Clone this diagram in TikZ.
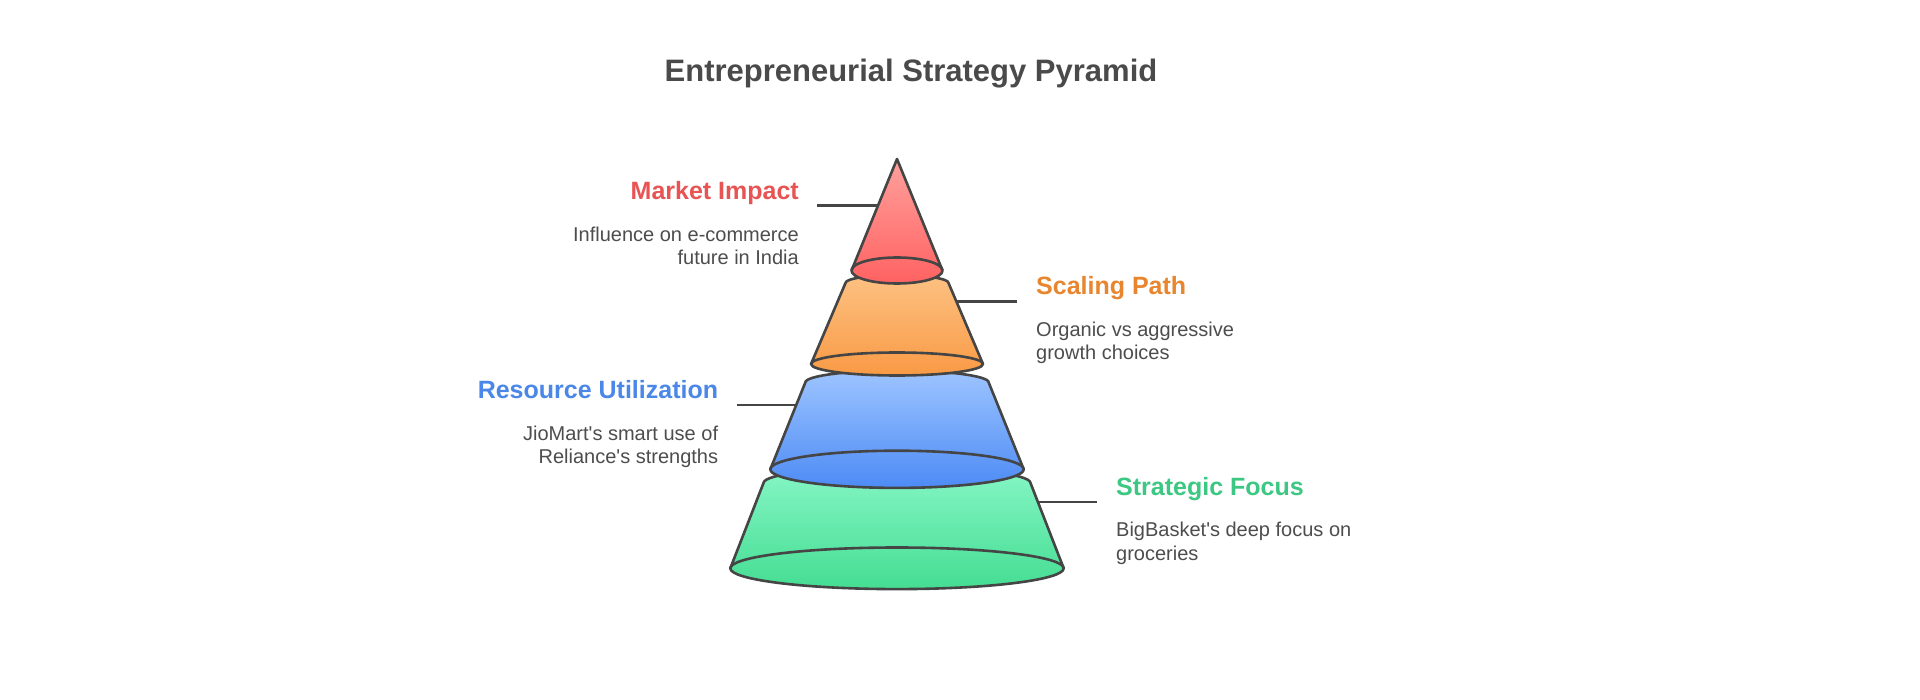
\documentclass[tikz,border=0pt]{standalone}
\usepackage{fontspec}
\setmainfont{Liberation Sans}
\definecolor{edge}{HTML}{454545}
\definecolor{titlegray}{HTML}{4A4A4A}
\definecolor{descgray}{HTML}{4D4D4D}
\definecolor{redtop}{HTML}{FFA09C}
\definecolor{redbot}{HTML}{FF6262}
\definecolor{orgtop}{HTML}{FDC182}
\definecolor{orgbot}{HTML}{F99A45}
\definecolor{blutop}{HTML}{9DC4FF}
\definecolor{blubot}{HTML}{4D8BF5}
\definecolor{grntop}{HTML}{86F6C6}
\definecolor{grnbot}{HTML}{45DD92}
\definecolor{redtxt}{HTML}{E85454}
\definecolor{orgtxt}{HTML}{E8852F}
\definecolor{blutxt}{HTML}{4A87E8}
\definecolor{grntxt}{HTML}{3CC882}
\begin{document}
\begin{tikzpicture}[x=1pt,y=-1pt,
  outline/.style={draw=edge, line width=2.6pt, line join=round},
  leader/.style={draw=edge, line width=2.4pt},
  ttl/.style={font=\fontsize{31}{36}\selectfont\bfseries, text=titlegray, inner sep=0pt},
  head/.style={font=\fontsize{25}{30}\selectfont\bfseries, inner sep=0pt},
  desc/.style={font=\fontsize{20}{23.3}\selectfont, text=descgray, inner sep=0pt},
]
\useasboundingbox (0,0) rectangle (1920,700);
\fill[white] (0,0) rectangle (1920,700);

% title
\node[ttl, anchor=base] (title) at (911,82) {Entrepreneurial Strategy Pyramid};

% green tier
\path[outline, top color=grntop, bottom color=grnbot]
  (763.5,483) arc[start angle=180,end angle=360,x radius=133.5,y radius=16]
  -- (1063.7,568.3) arc[start angle=0,end angle=180,x radius=166.7,y radius=20.8] -- cycle;
\draw[outline] (730.3,568.3) arc[start angle=180,end angle=360,x radius=166.7,y radius=20.8];

% blue tier
\path[outline, top color=blutop, bottom color=blubot]
  (805.3,382.5) arc[start angle=180,end angle=360,x radius=91.7,y radius=12]
  -- (1023.7,469.3) arc[start angle=0,end angle=180,x radius=126.7,y radius=18.6] -- cycle;
\draw[outline] (770.3,469.3) arc[start angle=180,end angle=360,x radius=126.7,y radius=18.6];

% orange tier
\path[outline, top color=orgtop, bottom color=orgbot]
  (845.5,283) arc[start angle=180,end angle=360,x radius=51.5,y radius=8]
  -- (983,364) arc[start angle=0,end angle=180,x radius=86,y radius=11.5] -- cycle;
\draw[outline] (811,364) arc[start angle=180,end angle=360,x radius=86,y radius=11.5];

% red tier
\path[outline, top color=redtop, bottom color=redbot]
  (897,159) -- (851.5,270.5) arc[start angle=180,end angle=0,x radius=45.5,y radius=13] -- cycle;
\draw[outline] (851.5,270.5) arc[start angle=180,end angle=360,x radius=45.5,y radius=13];

% leader lines
\coordinate (mia) at (816.7,205.7);
\coordinate (mib) at (877.5,205.7);
\coordinate (spa) at (957,301.7);
\coordinate (spb) at (1016.7,301.7);
\coordinate (rua) at (736.7,405);
\coordinate (rub) at (796,405);
\coordinate (sfa) at (1038,501.7);
\coordinate (sfb) at (1096.7,501.7);
\draw[leader] (mia) -- (mib);
\draw[leader] (spa) -- (spb);
\draw[leader] (rua) -- (rub);
\draw[leader] (sfa) -- (sfb);

% labels
\node[head, text=redtxt, anchor=base east] (mih) at (799,200) {Market Impact};
\node[desc, align=right, anchor=base east] (mid) at (799,265) {Influence on e-commerce\\future in India};

\node[head, text=orgtxt, anchor=base west] (sph) at (1036,295) {Scaling Path};
\node[desc, align=left, anchor=base west] (spd) at (1036,360) {Organic vs aggressive\\growth choices};

\node[head, text=blutxt, anchor=base east] (ruh) at (718.3,398.3) {Resource Utilization};
\node[desc, align=right, anchor=base east] (rud) at (718.3,464) {JioMart\textquotesingle s smart use of\\Reliance\textquotesingle s strengths};

\node[head, text=grntxt, anchor=base west] (sfh) at (1116,495) {Strategic Focus};
\node[desc, align=left, anchor=base west] (sfd) at (1116,560) {BigBasket\textquotesingle s deep focus on\\groceries};
\end{tikzpicture}
\end{document}
